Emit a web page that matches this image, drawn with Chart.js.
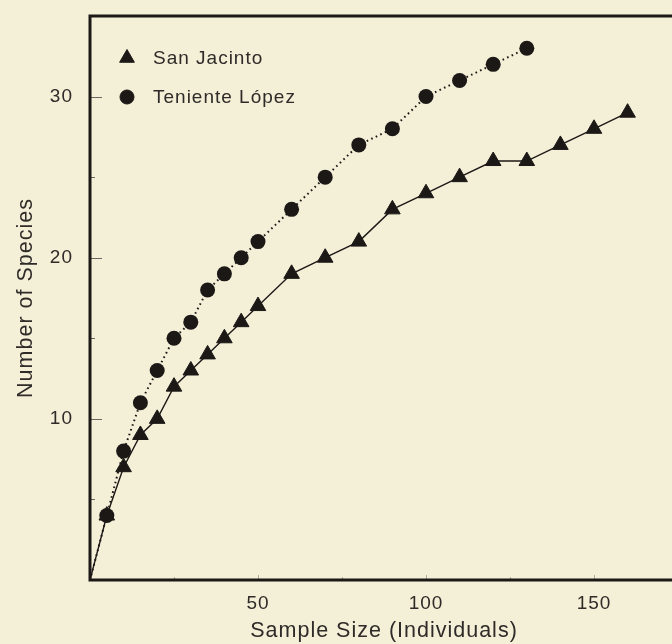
<!DOCTYPE html>
<html>
<head>
<meta charset="utf-8">
<script src="https://cdn.jsdelivr.net/npm/chart.js@4/dist/chart.umd.min.js"></script>
<style>
  html, body { margin: 0; padding: 0; background: #f4efd7; overflow: hidden; }
  #wrap { width: 690px; height: 644px; }
</style>
</head>
<body>
<div id="wrap"><canvas id="speciesChart" width="690" height="644"></canvas></div>
<script>
// ---------- data ----------
const sanJacintoX = [0, 5, 10, 15, 20, 25, 30, 35, 40, 45, 50, 60, 70, 80, 90, 100, 110, 120, 130, 140, 150, 160];
const sanJacintoY = [0, 4, 7, 9, 10, 12, 13, 14, 15, 16, 17, 19, 20, 21, 23, 24, 25, 26, 26, 27, 28, 29];

const tenienteX = [0, 5, 10, 15, 20, 25, 30, 35, 40, 45, 50, 60, 70, 80, 90, 100, 110, 120, 130];
const tenienteY = [0, 4, 8, 11, 13, 15, 16, 18, 19, 20, 21, 23, 25, 27, 28, 30, 31, 32, 33];

const xTickLabels = [50, 100, 150];
const yTickLabels = [10, 20, 30];

const ink = "#1b1816";
const textColor = "#2e2b28";
const fontFamily = "'Liberation Sans', Arial, Helvetica, sans-serif";

function toPoints(xs, ys) {
    return xs.map((x, i) => ({ x: x, y: ys[i] }));
}

// hide the marker on the origin point, line still starts there
const markerSize = r => ctx => (ctx.dataIndex === 0 ? 0 : r);

// the printed lettering is a little wide, space it out
const spacingPlugin = {
    id: "spacing",
    beforeDraw(chart) {
        chart.ctx.letterSpacing = "1px";
    }
};

// ---------- frame, inward ticks and inset legend ----------
const framePlugin = {
    id: "frame",
    afterDatasetsDraw(chart) {
        const { ctx, chartArea } = chart;
        const xs = chart.scales.x;
        const ys = chart.scales.y;
        ctx.save();

        // y ticks: long at labelled values, short in between
        ctx.strokeStyle = "#6b6763";
        ctx.lineWidth = 1;
        for (let v = 5; v <= 30; v += 5) {
            const py = Math.round(ys.getPixelForValue(v)) + 0.5;
            const len = yTickLabels.includes(v) ? 12 : 5;
            ctx.beginPath();
            ctx.moveTo(chartArea.left, py);
            ctx.lineTo(chartArea.left + len, py);
            ctx.stroke();
        }
        // x ticks (faint)
        ctx.strokeStyle = "rgba(90,85,80,0.45)";
        for (let v = 25; v <= 175; v += 25) {
            const px = Math.round(xs.getPixelForValue(v)) + 0.5;
            const len = xTickLabels.includes(v) ? 5 : 3;
            ctx.beginPath();
            ctx.moveTo(px, chartArea.bottom);
            ctx.lineTo(px, chartArea.bottom - len);
            ctx.stroke();
        }

        // frame
        ctx.strokeStyle = ink;
        ctx.lineWidth = 3;
        ctx.strokeRect(chartArea.left, chartArea.top, chartArea.right - chartArea.left, chartArea.bottom - chartArea.top);

        // legend
        const items = chart.data.datasets;
        ctx.font = "19px " + fontFamily;
        ctx.letterSpacing = "1px";
        ctx.textBaseline = "middle";
        ctx.textAlign = "left";
        items.forEach((ds, i) => {
            const ly = chartArea.top + 42 + i * 39;
            const lx = chartArea.left + 37;
            ctx.fillStyle = ink;
            ctx.strokeStyle = ink;
            ctx.lineWidth = 1;
            Chart.helpers.drawPoint(ctx, {
                pointStyle: ds.pointStyle,
                radius: ds.legendRadius,
                borderWidth: 1
            }, lx, ly);
            ctx.fillStyle = textColor;
            ctx.fillText(ds.label, chartArea.left + 63, ly + 1);
        });
        ctx.restore();
    }
};

const chart = new Chart(document.getElementById("speciesChart"), {
    type: "scatter",
    data: {
        datasets: [{
            label: "San Jacinto",
            data: toPoints(sanJacintoX, sanJacintoY),
            showLine: true,
            borderColor: ink,
            borderWidth: 1.4,
            pointStyle: "triangle",
            pointRadius: markerSize(9),
            legendRadius: 8.5,
            pointBackgroundColor: ink,
            pointBorderColor: ink,
            pointBorderWidth: 1
        }, {
            label: "Teniente López",
            data: toPoints(tenienteX, tenienteY),
            showLine: true,
            borderColor: ink,
            borderWidth: 2,
            borderDash: [1.6, 3.4],
            pointStyle: "circle",
            pointRadius: markerSize(7.5),
            legendRadius: 7,
            pointBackgroundColor: ink,
            pointBorderColor: ink,
            pointBorderWidth: 0
        }]
    },
    options: {
        responsive: false,
        animation: false,
        layout: { padding: { left: 0, top: 16, right: 12, bottom: 0 } },
        plugins: {
            legend: { display: false },
            tooltip: { enabled: false }
        },
        scales: {
            x: {
                type: "linear",
                min: 0,
                max: 175,
                afterFit: scale => {
                    scale.height = 64;
                    scale.paddingLeft = 0;
                    scale.paddingRight = 0;
                },
                border: { display: false },
                grid: { display: false, drawTicks: false },
                ticks: {
                    stepSize: 50,
                    padding: 12,
                    color: textColor,
                    font: { family: fontFamily, size: 19 },
                    callback: v => (xTickLabels.includes(v) ? String(v) : "")
                },
                title: {
                    display: true,
                    text: "Sample Size (Individuals)",
                    color: textColor,
                    font: { family: fontFamily, size: 21.5 },
                    padding: { top: 0, bottom: 0 }
                }
            },
            y: {
                min: 0,
                max: 35,
                afterFit: scale => {
                    scale.width = 90;
                    scale.paddingTop = 0;
                    scale.paddingBottom = 0;
                },
                border: { display: false },
                grid: { display: false, drawTicks: false },
                ticks: {
                    stepSize: 10,
                    padding: 17,
                    color: textColor,
                    font: { family: fontFamily, size: 19 },
                    callback: v => (yTickLabels.includes(v) ? String(v) : "")
                },
                title: {
                    display: true,
                    text: "Number of Species",
                    color: textColor,
                    font: { family: fontFamily, size: 21.5 },
                    padding: { top: 13, bottom: 0 }
                }
            }
        }
    },
    plugins: [spacingPlugin, framePlugin]
});
</script>
</body>
</html>
